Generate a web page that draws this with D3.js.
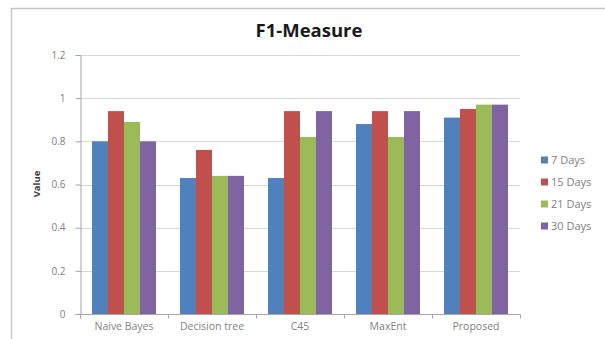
<!DOCTYPE html>
<html><head><meta charset="utf-8">
<script src="https://cdn.jsdelivr.net/npm/d3@7"></script>
<style>body{margin:0;background:#fff}svg{display:block}</style>
</head><body>
<script>
const categories = ["Naive Bayes","Decision tree","C45","MaxEnt","Proposed"];
const seriesNames = ["7 Days","15 Days","21 Days","30 Days"];
const days7  = [0.80,0.63,0.63,0.88,0.91];
const days15 = [0.94,0.76,0.94,0.94,0.95];
const days21 = [0.89,0.64,0.82,0.82,0.97];
const days30 = [0.80,0.64,0.94,0.94,0.97];
const yTicks = [0,0.2,0.4,0.6,0.8,1,1.2];
const yTickLabels = ["0","0.2","0.4","0.6","0.8","1","1.2"];
const colors = ["#4f81bd","#c0504d","#9bbb59","#8064a2"];
const seriesValues = [days7,days15,days21,days30];

(function(){
const W=605,H=339;
const svg=d3.select("body").append("svg").attr("width",W).attr("height",H);
const font="'Open Sans', sans-serif";

// chart frame
svg.append("line").attr("x1",12).attr("x2",W).attr("y1",8.5).attr("y2",8.5).attr("stroke","#c8c8c8").attr("stroke-width",1.5);
svg.append("line").attr("x1",11.5).attr("x2",11.5).attr("y1",8).attr("y2",H).attr("stroke","#c8c8c8").attr("stroke-width",1.5);

const pL=80,pR=520,pT=55,pB=314;
const x=d3.scaleBand().domain(categories).range([pL,pR]).paddingInner(0).paddingOuter(0);
const x1=d3.scaleBand().domain(seriesNames).range([12,76]).padding(0);
const y=d3.scaleLinear().domain([0,1.2]).range([pB,pT]);

// gridlines
svg.append("g").selectAll("line").data(yTicks.slice(1)).join("line")
  .attr("x1",pL).attr("x2",pR).attr("y1",d=>Math.round(y(d))+0.5).attr("y2",d=>Math.round(y(d))+0.5)
  .attr("stroke","#d9d9d9").attr("stroke-width",1);

// bars
const g=svg.append("g");
categories.forEach((c,i)=>{
  seriesNames.forEach((s,j)=>{
    const v=seriesValues[j][i];
    g.append("rect").attr("x",x(c)+x1(s)).attr("width",x1.bandwidth())
      .attr("y",y(v)).attr("height",y(0)-y(v)).attr("fill",colors[j]);
  });
});

// y axis
const yAxis=d3.axisLeft(y).tickValues(yTicks).tickFormat((d,i)=>yTickLabels[i]).tickSize(5).tickPadding(10);
const ya=svg.append("g").attr("transform",`translate(${pL+0.5},0)`).call(yAxis);
ya.select(".domain").attr("stroke","#a6a6a6");
ya.selectAll(".tick line").attr("stroke","#a6a6a6");
ya.selectAll("text").attr("fill","#7f7f7f").attr("font-family",font).attr("font-size",10);

// x axis
const xa=svg.append("g").attr("transform",`translate(0,${pB+0.5})`)
  .call(d3.axisBottom(x).tickSize(0).tickPadding(8));
xa.select(".domain").attr("stroke","#a6a6a6").attr("d",`M${pL},0H${pR}`);
xa.selectAll("text").attr("fill","#7f7f7f").attr("font-family",font).attr("font-size",10.5);
xa.selectAll(".sep").data(d3.range(categories.length+1)).join("line").attr("class","sep")
  .attr("x1",i=>pL+i*x.bandwidth()+0.5).attr("x2",i=>pL+i*x.bandwidth()+0.5)
  .attr("y1",0).attr("y2",4).attr("stroke","#a6a6a6");

// title
svg.append("text").attr("x",309).attr("y",37).attr("text-anchor","middle")
  .attr("font-family",font).attr("font-weight","bold").attr("font-size",18.5).attr("fill","#1a1a1a").text("F1-Measure");

// y label
svg.append("text").attr("transform","translate(40,184) rotate(-90)").attr("text-anchor","middle")
  .attr("font-family",font).attr("font-weight","bold").attr("font-size",9.5).attr("fill","#404040").text("Value");

// legend
const lg=svg.append("g");
seriesNames.forEach((s,j)=>{
  const yy=160+j*22;
  lg.append("rect").attr("x",541).attr("y",yy-3.5).attr("width",7).attr("height",7).attr("fill",colors[j]);
  lg.append("text").attr("x",551).attr("y",yy+4).attr("font-family",font).attr("font-size",11).attr("fill","#7f7f7f").text(s);
});
})();
</script>
</body></html>
